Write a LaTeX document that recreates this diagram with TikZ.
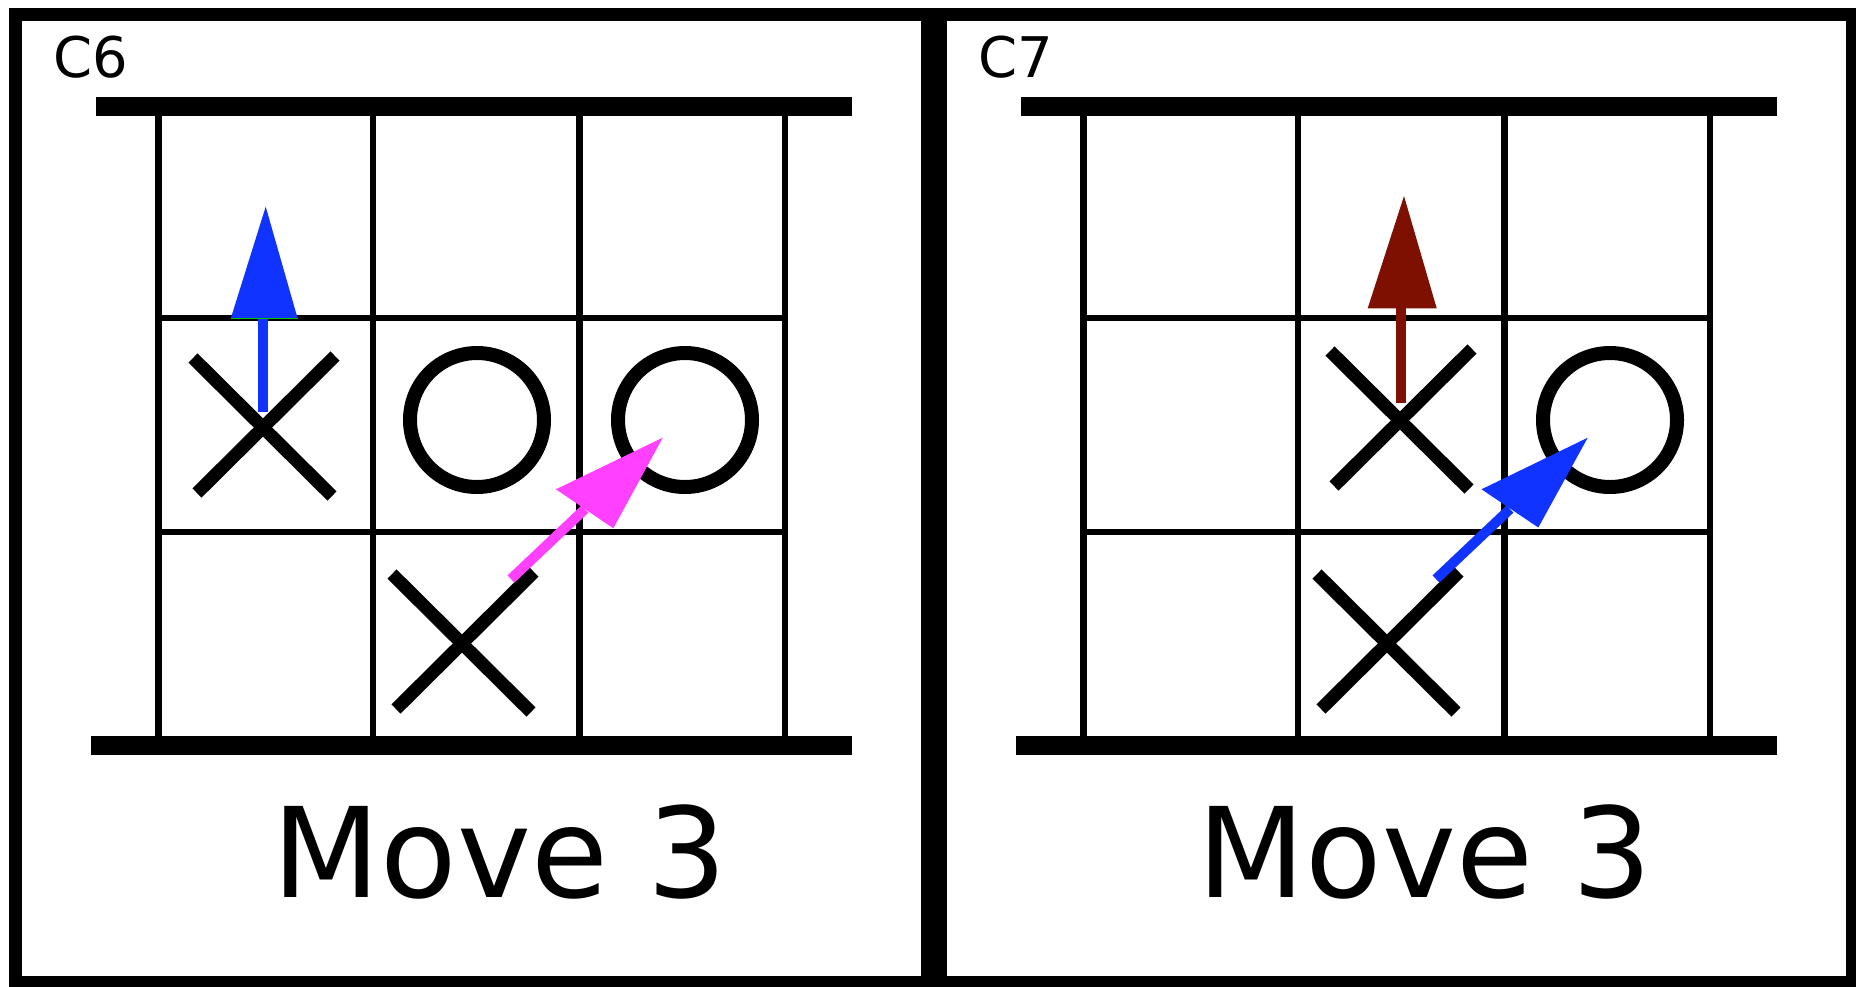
\documentclass[tikz,border=0pt]{standalone}
\usepackage{fontspec}
\setmainfont{DejaVu Sans}
\definecolor{mvblue}{RGB}{16,51,255}
\definecolor{mvmag}{RGB}{255,64,255}
\definecolor{mvred}{RGB}{125,16,0}
\definecolor{mvgreen}{RGB}{0,190,0}
\tikzset{
  panelframe/.style={draw=black,line width=13pt},
  boardbar/.style={fill=black},
  gridline/.style={draw=black,line width=6.5pt},
  xstroke/.style={draw=black,line width=13pt},
  ostroke/.style={draw=black,line width=14pt},
  shaft/.style={line width=10pt},
  cornertext/.style={anchor=base west,inner sep=0pt,font=\fontsize{56}{60}\selectfont},
  movetext/.style={anchor=base,inner sep=0pt,font=\fontsize{125}{130}\selectfont},
}
\newcommand\tttboard{%
  \draw[panelframe] (15.5,14.5) rectangle (927.5,982.5);
  \fill[boardbar] (96,97) rectangle (852,116);
  \fill[boardbar] (90.5,736) rectangle (852,755);
  \foreach \gx in {158.6,372.8,579.3,785}{\draw[gridline] (\gx,116) -- (\gx,736);}
  \foreach \gy in {318,532}{\draw[gridline] (158.6,\gy) -- (785,\gy);}
}
\newcommand\xpiece[1]{%
  \begin{scope}[shift={(#1)}]
    \draw[xstroke] (-70,-68) -- (69,70);
    \draw[xstroke] (72,-70) -- (-66,67);
  \end{scope}}
\begin{document}
\begin{tikzpicture}[x=1pt,y=-1pt]
\useasboundingbox (0,0) rectangle (1856,986);
\fill[white] (0,0) rectangle (1856,986);

% ---------------- left panel (C6) ----------------
\tttboard
\node[cornertext] (c6) at (53,77.5) {C6};
\node[movetext] (move6) at (500,897) {Move 3};
\xpiece{263,426}
\xpiece{462,642}
\draw[ostroke] (477,420) circle[radius=67pt];
\draw[ostroke] (685,420) circle[radius=67pt];
% blue up arrow
\coordinate (b1tail) at (263.3,412);
\coordinate (b1base) at (263.3,318.3);
\coordinate (b1l) at (230.8,318.3);
\coordinate (b1r) at (297.6,318.3);
\coordinate (b1tip) at (265.7,206.7);
\draw[shaft,mvblue] (b1tail) -- (b1base);
\fill[mvblue] (b1l) -- (b1r) -- (b1tip) -- cycle;
\draw[mvgreen,line width=1.2pt] (b1l) -- (b1r);
% magenta diagonal arrow
\coordinate (m1tail) at (511,579);
\coordinate (m1base) at (585,509);
\coordinate (m1l) at (556,489.3);
\coordinate (m1r) at (613.3,528.3);
\coordinate (m1tip) at (662.7,437.7);
\draw[shaft,mvmag] (m1tail) -- (m1base);
\fill[mvmag] (m1l) -- (m1r) -- (m1tip) -- cycle;

% ---------------- right panel (C7) ----------------
\begin{scope}[shift={(925,0)}]
\tttboard
\end{scope}
\node[cornertext] (c7) at (978,77.5) {C7};
\node[movetext] (move7) at (1425,897) {Move 3};
\xpiece{1400,419}
\xpiece{1387,642}
\draw[ostroke] (1610,420) circle[radius=67pt];
% dark red up arrow
\coordinate (r2tail) at (1401,402.7);
\coordinate (r2base) at (1401,308.3);
\coordinate (r2l) at (1367.7,308.3);
\coordinate (r2r) at (1436.7,308.3);
\coordinate (r2tip) at (1404,196);
\draw[shaft,mvred] (r2tail) -- (r2base);
\fill[mvred] (r2l) -- (r2r) -- (r2tip) -- cycle;
% blue diagonal arrow
\coordinate (b2tail) at (1436,579);
\coordinate (b2base) at (1510,509);
\coordinate (b2l) at (1481.5,489.3);
\coordinate (b2r) at (1538.3,527.5);
\coordinate (b2tip) at (1587.7,437.7);
\draw[shaft,mvblue] (b2tail) -- (b2base);
\fill[mvblue] (b2l) -- (b2r) -- (b2tip) -- cycle;
\end{tikzpicture}
\end{document}
